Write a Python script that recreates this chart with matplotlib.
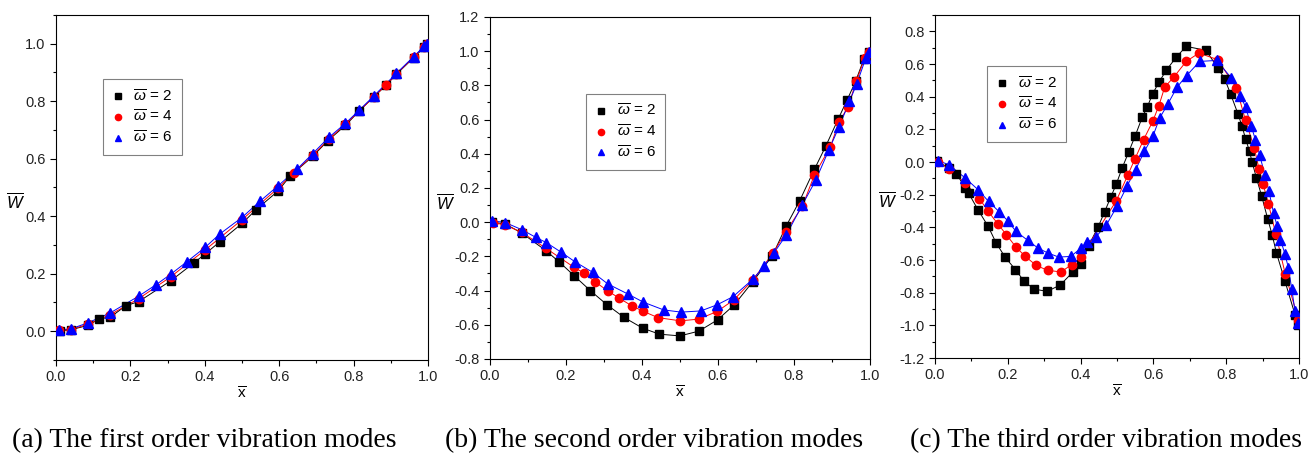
import numpy as np
import matplotlib.pyplot as plt
from matplotlib import font_manager
from matplotlib.ticker import MultipleLocator, FuncFormatter

# narrow sans like the original if present
try:
    font_manager.findfont('Liberation Sans Narrow', fallback_to_default=False)
    tick_font = 'Liberation Sans Narrow'
except Exception:
    tick_font = 'Liberation Sans'

plt.rcParams['font.family'] = [tick_font, 'DejaVu Sans']
plt.rcParams['mathtext.fontset'] = 'custom'
plt.rcParams['mathtext.rm'] = tick_font
plt.rcParams['mathtext.it'] = tick_font + ':italic'

# ---- (a) first order mode ----
a_x2 = [0.011, 0.039, 0.085, 0.116, 0.146, 0.188, 0.222, 0.309, 0.370, 0.401, 0.440, 0.500, 0.537,
        0.597, 0.630, 0.690, 0.730, 0.778, 0.815, 0.854, 0.887, 0.915, 0.961, 0.990, 0.997]
a_w2 = [0.002, 0.005, 0.020, 0.043, 0.049, 0.089, 0.103, 0.176, 0.237, 0.269, 0.311, 0.375, 0.422,
        0.488, 0.541, 0.608, 0.662, 0.716, 0.766, 0.815, 0.855, 0.894, 0.951, 0.988, 1.000]
a_x4 = [0.009, 0.039, 0.085, 0.146, 0.222, 0.309, 0.401, 0.500, 0.597, 0.639, 0.690, 0.733, 0.778,
        0.854, 0.887, 0.915, 0.961, 0.990, 0.997]
a_w4 = [0.003, 0.006, 0.024, 0.058, 0.113, 0.190, 0.283, 0.388, 0.498, 0.551, 0.612, 0.668, 0.720,
        0.815, 0.856, 0.895, 0.953, 0.990, 1.000]
a_x6 = [0.009, 0.039, 0.085, 0.146, 0.222, 0.269, 0.309, 0.352, 0.401, 0.440, 0.500, 0.549, 0.597,
        0.648, 0.690, 0.733, 0.778, 0.815, 0.854, 0.915, 0.961, 0.990, 0.997]
a_w6 = [0.005, 0.008, 0.029, 0.064, 0.122, 0.162, 0.199, 0.242, 0.292, 0.338, 0.396, 0.453, 0.506,
        0.564, 0.618, 0.674, 0.723, 0.769, 0.818, 0.897, 0.955, 0.992, 1.000]

# ---- (b) second order mode ----
b_x2 = [0.006, 0.040, 0.084, 0.147, 0.183, 0.222, 0.264, 0.308, 0.353, 0.402, 0.446, 0.500, 0.550,
        0.599, 0.643, 0.692, 0.743, 0.779, 0.815, 0.854, 0.884, 0.917, 0.940, 0.962, 0.984, 0.998]
b_w2 = [0.000, -0.010, -0.064, -0.166, -0.234, -0.314, -0.400, -0.483, -0.557, -0.620, -0.655, -0.665,
        -0.637, -0.571, -0.483, -0.347, -0.197, -0.025, 0.125, 0.310, 0.446, 0.606, 0.715, 0.823, 0.953, 0.998]
b_x4 = [0.007, 0.040, 0.084, 0.147, 0.222, 0.248, 0.277, 0.310, 0.340, 0.373, 0.404, 0.442, 0.501,
        0.549, 0.598, 0.642, 0.692, 0.745, 0.779, 0.822, 0.854, 0.896, 0.918, 0.942, 0.964, 0.986, 0.998]
b_w4 = [-0.002, -0.016, -0.060, -0.152, -0.265, -0.298, -0.349, -0.402, -0.444, -0.489, -0.522, -0.558,
        -0.577, -0.567, -0.522, -0.454, -0.337, -0.181, -0.055, 0.092, 0.277, 0.442, 0.583, 0.673, 0.823,
        0.959, 0.998]
b_x6 = [0.006, 0.040, 0.085, 0.120, 0.148, 0.187, 0.224, 0.271, 0.310, 0.362, 0.404, 0.457, 0.503,
        0.555, 0.598, 0.640, 0.692, 0.721, 0.747, 0.780, 0.822, 0.857, 0.892, 0.919, 0.946, 0.965, 0.989, 0.998]
b_w6 = [0.008, -0.002, -0.045, -0.088, -0.119, -0.175, -0.232, -0.294, -0.361, -0.419, -0.468, -0.513,
        -0.526, -0.519, -0.483, -0.435, -0.333, -0.259, -0.181, -0.074, 0.101, 0.244, 0.423, 0.559, 0.706,
        0.807, 0.959, 0.998]

# ---- (c) third order mode ----
c_x2 = [0.006, 0.038, 0.059, 0.083, 0.092, 0.119, 0.146, 0.168, 0.193, 0.221, 0.245, 0.272, 0.308,
        0.344, 0.379, 0.400, 0.422, 0.448, 0.466, 0.483, 0.498, 0.514, 0.532, 0.550, 0.569, 0.583, 0.598,
        0.615, 0.635, 0.663, 0.690, 0.744, 0.777, 0.796, 0.812, 0.832, 0.843, 0.853, 0.864, 0.871, 0.883,
        0.897, 0.914, 0.926, 0.938, 0.961, 0.989, 0.998]
c_w2 = [0.006, -0.037, -0.071, -0.159, -0.190, -0.296, -0.394, -0.496, -0.584, -0.659, -0.731, -0.778,
        -0.792, -0.753, -0.673, -0.624, -0.512, -0.398, -0.304, -0.214, -0.135, -0.037, 0.061, 0.161, 0.273,
        0.337, 0.418, 0.488, 0.561, 0.643, 0.708, 0.684, 0.576, 0.508, 0.416, 0.296, 0.222, 0.143, 0.065,
        0.000, -0.098, -0.206, -0.349, -0.445, -0.557, -0.727, -0.935, -0.996]
c_x4 = [0.008, 0.038, 0.083, 0.122, 0.146, 0.173, 0.196, 0.222, 0.248, 0.278, 0.309, 0.346, 0.375,
        0.400, 0.498, 0.530, 0.549, 0.573, 0.598, 0.615, 0.631, 0.656, 0.690, 0.725, 0.776, 0.828, 0.853,
        0.877, 0.890, 0.901, 0.916, 0.936, 0.962, 0.998]
c_w4 = [0.002, -0.041, -0.129, -0.224, -0.302, -0.380, -0.445, -0.520, -0.578, -0.633, -0.663, -0.673,
        -0.629, -0.584, -0.237, -0.078, 0.018, 0.137, 0.249, 0.345, 0.459, 0.520, 0.616, 0.667, 0.627,
        0.453, 0.255, 0.086, -0.041, -0.133, -0.257, -0.439, -0.684, -0.965]
c_x6 = [0.008, 0.038, 0.083, 0.118, 0.147, 0.176, 0.201, 0.222, 0.255, 0.283, 0.310, 0.340, 0.373,
        0.401, 0.417, 0.441, 0.471, 0.500, 0.528, 0.551, 0.575, 0.599, 0.617, 0.640, 0.665, 0.691, 0.727,
        0.774, 0.814, 0.839, 0.853, 0.869, 0.880, 0.892, 0.906, 0.917, 0.930, 0.940, 0.949, 0.961, 0.971,
        0.980, 0.989, 0.998]
c_w6 = [0.008, -0.016, -0.098, -0.169, -0.241, -0.304, -0.363, -0.424, -0.480, -0.527, -0.557, -0.582,
        -0.578, -0.527, -0.492, -0.461, -0.384, -0.271, -0.145, -0.047, 0.065, 0.161, 0.269, 0.357, 0.459,
        0.529, 0.616, 0.622, 0.514, 0.406, 0.337, 0.218, 0.137, 0.041, -0.078, -0.176, -0.312, -0.394,
        -0.476, -0.561, -0.651, -0.778, -0.914, -0.986]

labels = [r'$\overline{\omega}$ = 2', r'$\overline{\omega}$ = 4', r'$\overline{\omega}$ = 6']
captions = ['(a) The first order vibration modes', '(b) The second order vibration modes',
            '(c) The third order vibration modes']

panels = [
    dict(data=[(a_x2, a_w2), (a_x4, a_w4), (a_x6, a_w6)], ylim=(-0.1, 1.1), yticks=(0, 1.0),
         rect=[0.0428, 0.2191, 0.2842, 0.7484], leg=(0.126, 0.814), ylab=-0.11, cap=0.156),
    dict(data=[(b_x2, b_w2), (b_x4, b_w4), (b_x6, b_w6)], ylim=(-0.8, 1.2), yticks=(-0.8, 1.2),
         rect=[0.3743, 0.2213, 0.2903, 0.7419], leg=(0.253, 0.775), ylab=-0.118, cap=0.5),
    dict(data=[(c_x2, c_w2), (c_x4, c_w4), (c_x6, c_w6)], ylim=(-1.2, 0.9), yticks=(-1.2, 0.8),
         rect=[0.7143, 0.2234, 0.2781, 0.744], leg=(0.143, 0.851), ylab=-0.13, cap=0.845),
]

colors = ['black', 'red', 'blue']
markers = ['s', 'o', '^']
msizes = [5.5, 6, 6.5]

fmt = FuncFormatter(lambda v, pos: f'{round(v, 1) + 0.0:.1f}')

fig = plt.figure(figsize=(13.09, 4.61), dpi=100)
for p, cap in zip(panels, captions):
    ax = fig.add_axes(p['rect'])
    for (x, w), c, m, ms, lab in zip(p['data'], colors, markers, msizes, labels):
        ax.plot(x, w, '-', color=c, lw=0.7, zorder=2)
        ax.plot(x, w, ls='none', marker=m, ms=ms, color=c, mec=c, label=lab, zorder=3)
    ax.set_xlim(0, 1.0)
    ax.set_ylim(*p['ylim'])
    ax.set_xticks(np.arange(0, 1.01, 0.2))
    ax.set_yticks(np.arange(p['yticks'][0], p['yticks'][1] + 0.01, 0.2))
    ax.xaxis.set_minor_locator(MultipleLocator(0.1))
    ax.yaxis.set_minor_locator(MultipleLocator(0.1))
    ax.xaxis.set_major_formatter(fmt)
    ax.yaxis.set_major_formatter(fmt)
    ax.tick_params(which='major', direction='out', length=4.5, width=0.8, labelsize=10.5,
                   pad=3, labelcolor='#222222')
    ax.tick_params(which='minor', direction='out', length=2.3, width=0.8)
    for s in ax.spines.values():
        s.set_linewidth(0.8)
    ax.set_xlabel(r'$\overline{\mathrm{x}}$', fontsize=11, labelpad=1)
    ax.set_ylabel(r'$\overline{W}$', fontsize=12, rotation=0, va='center')
    ax.yaxis.set_label_coords(p['ylab'], 0.46)
    leg = ax.legend(loc='upper left', bbox_to_anchor=p['leg'], fontsize=11, frameon=True,
                    fancybox=False, edgecolor='#808080', framealpha=1, handlelength=0.8,
                    handletextpad=0.6, borderpad=0.6, labelspacing=0.3, borderaxespad=0,
                    markerscale=0.75)
    leg.get_frame().set_linewidth(0.8)
    fig.text(p['cap'], 0.045, cap, ha='center', va='center', fontsize=20,
             family='Liberation Serif')

fig.savefig('out.png', dpi=100)
